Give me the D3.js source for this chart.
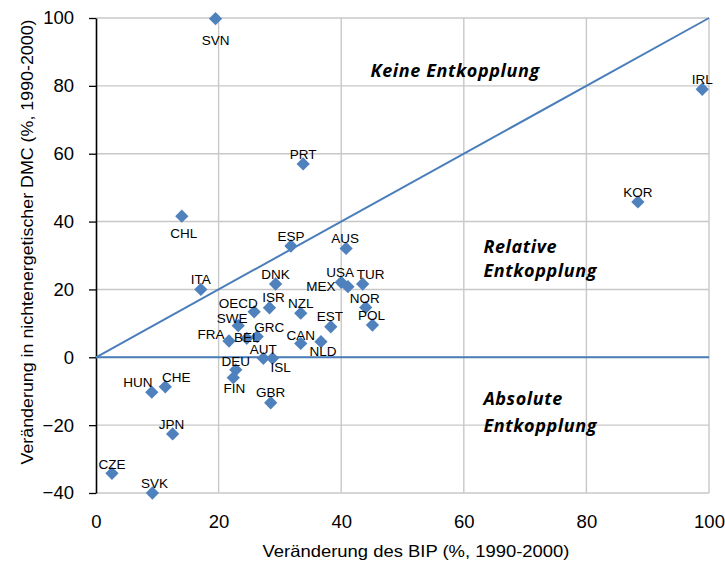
<!DOCTYPE html>
<html>
<head>
<meta charset="utf-8">
<script src="https://cdn.jsdelivr.net/npm/d3@7"></script>
<style>
  body { margin: 0; background: #fff; }
  text { font-family: "Liberation Sans", Arial, sans-serif; fill: #000; }
  .anno { font-family: "Open Sans", Lato, sans-serif; font-weight: bold; font-style: italic; font-size: 18px; letter-spacing: 0.6px; }
</style>
</head>
<body>
<div id="chart"></div>
<script>
// data
var countries = ["SVN","PRT","IRL","KOR","CHL","ESP","AUS","ITA","DNK","USA","MEX","TUR","NOR","POL","EST","NZL","CAN","NLD","OECD","ISR","SWE","FRA","BEL","GRC","AUT","ISL","DEU","FIN","GBR","HUN","CHE","JPN","CZE","SVK"];
var bip = [19.5, 33.8, 98.9, 88.4, 14.0, 31.8, 40.8, 17.1, 29.3, 40.0, 41.1, 43.5, 44.0, 45.1, 38.3, 33.4, 33.4, 36.7, 25.8, 28.3, 23.2, 21.7, 24.6, 26.3, 27.3, 28.8, 22.8, 22.4, 28.5, 9.1, 11.3, 12.5, 2.6, 9.2];
var dmc = [99.8, 57.0, 79.0, 45.8, 41.6, 32.8, 32.1, 20.0, 21.6, 22.1, 20.8, 21.6, 14.7, 9.5, 9.0, 13.0, 4.1, 4.6, 13.4, 14.6, 9.3, 4.8, 5.6, 6.1, -0.3, -0.3, -3.7, -6.0, -13.4, -10.3, -8.7, -22.6, -34.2, -40.0];
var xTicks = [0, 20, 40, 60, 80, 100];
var yTicks = [-40, -20, 0, 20, 40, 60, 80, 100];
var notes = [
  {text: "Keine Entkopplung", x: 58.6, y: 82.5, anchor: "middle"},
  {text: "Relative", x: 63.2, y: 30.8, anchor: "start"},
  {text: "Entkopplung", x: 63.2, y: 23.7, anchor: "start"},
  {text: "Absolute", x: 63.2, y: -14.0, anchor: "start"},
  {text: "Entkopplung", x: 63.2, y: -22.0, anchor: "start"}
];

// label offsets (px) from each diamond, to keep the labels where they sit in the original
var labelOff = {
  SVN:[0,22], PRT:[0,-10], IRL:[0,-10], KOR:[0,-10], CHL:[2,17], ESP:[0,-10], AUS:[-1,-10],
  ITA:[0,-10], DNK:[0,-10], USA:[-1,-10], MEX:[-27,0], TUR:[8,-10], NOR:[-1,-9], POL:[-1,-10],
  EST:[-1,-10], NZL:[0,-10], CAN:[0,-8], NLD:[2,10], OECD:[-16,-9], ISR:[4,-10], SWE:[-6,-7],
  FRA:[-18,-7], BEL:[0,-1], GRC:[12,-9], AUT:[0,-9], ISL:[8,9], DEU:[0,-9], FIN:[1,11],
  GBR:[0,-10], HUN:[-14,-10], CHE:[11,-10], JPN:[-1,-10], CZE:[0,-9], SVK:[2,-10]
};

var widthT = 725, heightT = 566;
var margin = {top: 18, right: 16, bottom: 73, left: 96},
    width = widthT - margin.left - margin.right,
    height = heightT - margin.top - margin.bottom;

var svg = d3.select("#chart").append("svg")
    .attr("width", widthT)
    .attr("height", heightT);
var g = svg.append("g").attr("transform", "translate(" + margin.left + "," + margin.top + ")");

var x = d3.scaleLinear().domain([0, 100]).range([0, width]);
var y = d3.scaleLinear().domain([-40, 100]).range([height, 0]);

// gridlines
g.append("g").selectAll("line").data(yTicks).enter().append("line")
    .attr("x1", 0).attr("x2", width)
    .attr("y1", function(d) { return y(d); }).attr("y2", function(d) { return y(d); })
    .attr("stroke", "#c8c8c8").attr("stroke-width", 1.4);
g.append("g").selectAll("line").data(xTicks.slice(1)).enter().append("line")
    .attr("x1", function(d) { return x(d); }).attr("x2", function(d) { return x(d); })
    .attr("y1", 0).attr("y2", height)
    .attr("stroke", "#c8c8c8").attr("stroke-width", 1.4);

// x tick labels (no axis line)
var xAxis = g.append("g")
    .attr("transform", "translate(0," + height + ")")
    .call(d3.axisBottom(x).tickValues(xTicks).tickSize(0).tickPadding(22));
xAxis.select(".domain").remove();
xAxis.selectAll("text").attr("font-size", "18.5px").attr("font-family", "Liberation Sans, Arial, sans-serif").attr("fill", "#000");

// y axis
var yAxis = g.append("g")
    .call(d3.axisLeft(y).tickValues(yTicks).tickSize(7).tickPadding(15).tickSizeOuter(0));
yAxis.select(".domain").attr("stroke", "#000").attr("stroke-width", 1.6);
yAxis.selectAll(".tick line").attr("stroke", "#000").attr("stroke-width", 1.3);
yAxis.selectAll("text").attr("font-size", "18.5px").attr("font-family", "Liberation Sans, Arial, sans-serif").attr("fill", "#000");

// reference lines: y = x and y = 0
var refLine = d3.line().x(function(d) { return x(d[0]); }).y(function(d) { return y(d[1]); });
g.append("path").datum([[0, 0], [100, 100]])
    .attr("d", refLine).attr("fill", "none").attr("stroke", "#4a7ebb").attr("stroke-width", 2);
g.append("path").datum([[0, 0], [100, 0]])
    .attr("d", refLine).attr("fill", "none").attr("stroke", "#4a7ebb").attr("stroke-width", 2);

// points
var pts = countries.map(function(c, i) { return {name: c, bip: bip[i], dmc: dmc[i]}; });
var diamond = d3.symbol().type(d3.symbolSquare).size(88);
g.append("g").selectAll("path").data(pts).enter().append("path")
    .attr("d", diamond)
    .attr("transform", function(d) { return "translate(" + x(d.bip) + "," + y(d.dmc) + ") rotate(45)"; })
    .attr("fill", "#4f81bd");

// labels
g.append("g").selectAll("text").data(pts).enter().append("text")
    .attr("x", function(d) { return x(d.bip) + labelOff[d.name][0]; })
    .attr("y", function(d) { return y(d.dmc) + labelOff[d.name][1]; })
    .attr("dy", "0.35em")
    .attr("text-anchor", "middle")
    .attr("font-size", "13.5px")
    .text(function(d) { return d.name; });

// annotations
g.append("g").selectAll("text").data(notes).enter().append("text")
    .attr("class", "anno")
    .attr("x", function(d) { return x(d.x); })
    .attr("y", function(d) { return y(d.y); })
    .attr("text-anchor", function(d) { return d.anchor; })
    .text(function(d) { return d.text; });

// axis titles
svg.append("text")
    .attr("x", 416).attr("y", 557)
    .attr("text-anchor", "middle")
    .attr("font-size", "16.5px")
    .attr("textLength", 307).attr("lengthAdjust", "spacingAndGlyphs")
    .text("Veränderung des BIP (%, 1990-2000)");
svg.append("text")
    .attr("transform", "translate(33,242) rotate(-90)")
    .attr("text-anchor", "middle")
    .attr("font-size", "16.5px")
    .attr("textLength", 445).attr("lengthAdjust", "spacingAndGlyphs")
    .text("Veränderung in nichtenergetischer DMC (%, 1990-2000)");
</script>
</body>
</html>
